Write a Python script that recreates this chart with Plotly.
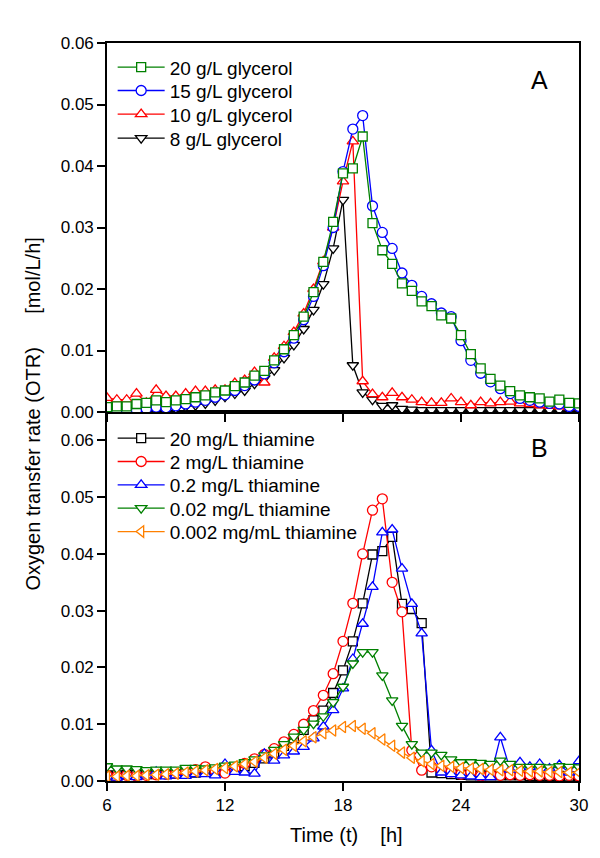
import plotly.graph_objects as go

# time axis (h)
t = [6.0, 6.5, 7.0, 7.5, 8.0, 8.5, 9.0, 9.5, 10.0, 10.5, 11.0, 11.5, 12.0, 12.5,
     13.0, 13.5, 14.0, 14.5, 15.0, 15.5, 16.0, 16.5, 17.0, 17.5, 18.0, 18.5,
     19.0, 19.5, 20.0, 20.5, 21.0, 21.5, 22.0, 22.5, 23.0, 23.5, 24.0, 24.5,
     25.0, 25.5, 26.0, 26.5, 27.0, 27.5, 28.0, 28.5, 29.0, 29.5, 30.0]

# Panel A: glycerol
gly20 = [0.0008, 0.0009, 0.0009, 0.0013, 0.0015, 0.0019, 0.0016, 0.0019, 0.0021, 0.0024,
         0.0027, 0.0032, 0.0035, 0.0042, 0.0048, 0.0059, 0.0067, 0.0084, 0.0102, 0.0125,
         0.0155, 0.0195, 0.0244, 0.0309, 0.0388, 0.0396, 0.0448, 0.0307, 0.0263, 0.0241,
         0.0209, 0.0197, 0.0180, 0.0172, 0.0157, 0.0152, 0.0125, 0.0094, 0.0071, 0.0054,
         0.0043, 0.0034, 0.0027, 0.0024, 0.0022, 0.0017, 0.0020, 0.0015, 0.0014]
gly15 = [0.0002, 0.0002, 0.0001, 0.0003, 0.0005, 0.0008, 0.0007, 0.0010, 0.0013, 0.0016,
         0.0019, 0.0024, 0.0028, 0.0035, 0.0043, 0.0052, 0.0062, 0.0080, 0.0098, 0.0120,
         0.0150, 0.0188, 0.0238, 0.0300, 0.0391, 0.0460, 0.0482, 0.0335, 0.0292, 0.0266,
         0.0226, 0.0206, 0.0188, 0.0176, 0.0161, 0.0155, 0.0116, 0.0084, 0.0063, 0.0049,
         0.0038, 0.0030, 0.0022, 0.0019, 0.0016, 0.0014, 0.0013, 0.0009, 0.0009]
gly10 = [0.0023, 0.0020, 0.0020, 0.0030, 0.0015, 0.0036, 0.0026, 0.0026, 0.0030, 0.0034,
         0.0034, 0.0036, 0.0036, 0.0047, 0.0052, 0.0065, 0.0048, 0.0088, 0.0107, 0.0130,
         0.0160, 0.0200, 0.0245, 0.0300, 0.0375, 0.0440, 0.0050, 0.0029, 0.0024, 0.0031,
         0.0024, 0.0020, 0.0016, 0.0015, 0.0015, 0.0022, 0.0016, 0.0011, 0.0016, 0.0014,
         0.0016, 0.0017, 0.0014, 0.0013, 0.0011, 0.0010, 0.0009, 0.0008, 0.0009]
gly8 = [0.0003, 0.0003, 0.0002, 0.0004, 0.0005, 0.0006, 0.0004, 0.0006, 0.0009, 0.0011,
        0.0014, 0.0019, 0.0025, 0.0030, 0.0035, 0.0046, 0.0055, 0.0068, 0.0088, 0.0109,
        0.0135, 0.0166, 0.0208, 0.0266, 0.0345, 0.0076, 0.0032, 0.0020, 0.0010, 0.0011,
        0.0005, 0.0004, 0.0003, 0.0003, 0.0003, 0.0003, 0.0003, 0.0003, 0.0003, 0.0003,
        0.0003, 0.0003, 0.0003, 0.0003, 0.0003, 0.0003, 0.0003, 0.0003, 0.0003]

# Panel B: thiamine
thi20 = [0.0010, 0.0010, 0.0011, 0.0011, 0.0012, 0.0012, 0.0013, 0.0013, 0.0014, 0.0015,
         0.0016, 0.0017, 0.0018, 0.0022, 0.0026, 0.0032, 0.0040, 0.0050, 0.0062, 0.0075,
         0.0090, 0.0107, 0.0124, 0.0155, 0.0195, 0.0246, 0.0313, 0.0399, 0.0405, 0.0430,
         0.0312, 0.0303, 0.0278, 0.0015, 0.0014, 0.0012, 0.0011, 0.0010, 0.0010, 0.0010,
         0.0010, 0.0010, 0.0010, 0.0009, 0.0009, 0.0009, 0.0009, 0.0008, 0.0008]
thi2 = [0.0010, 0.0008, 0.0010, 0.0009, 0.0010, 0.0011, 0.0012, 0.0014, 0.0016, 0.0020,
        0.0025, 0.0018, 0.0014, 0.0022, 0.0031, 0.0039, 0.0047, 0.0057, 0.0069, 0.0082,
        0.0100, 0.0124, 0.0151, 0.0189, 0.0246, 0.0313, 0.0400, 0.0477, 0.0497, 0.0350,
        0.0298, 0.0054, 0.0019, 0.0025, 0.0020, 0.0016, 0.0012, 0.0016, 0.0009, 0.0012,
        0.0010, 0.0011, 0.0010, 0.0011, 0.0010, 0.0010, 0.0009, 0.0010, 0.0009]
thi02 = [0.0008, 0.0006, 0.0009, 0.0007, 0.0010, 0.0016, 0.0008, 0.0010, 0.0009, 0.0012,
         0.0012, 0.0010, 0.0030, 0.0016, 0.0015, 0.0013, 0.0048, 0.0036, 0.0045, 0.0052,
         0.0060, 0.0075, 0.0096, 0.0125, 0.0163, 0.0215, 0.0277, 0.0342, 0.0438, 0.0443,
         0.0374, 0.0312, 0.0260, 0.0054, 0.0015, 0.0012, 0.0010, 0.0008, 0.0007, 0.0007,
         0.0077, 0.0020, 0.0033, 0.0025, 0.0030, 0.0022, 0.0028, 0.0015, 0.0035]
thi002 = [0.0026, 0.0022, 0.0022, 0.0021, 0.0019, 0.0020, 0.0020, 0.0020, 0.0023, 0.0023,
          0.0022, 0.0024, 0.0027, 0.0029, 0.0033, 0.0038, 0.0045, 0.0055, 0.0065, 0.0078,
          0.0090, 0.0101, 0.0114, 0.0139, 0.0166, 0.0207, 0.0227, 0.0227, 0.0186, 0.0142,
          0.0097, 0.0065, 0.0050, 0.0050, 0.0046, 0.0038, 0.0033, 0.0033, 0.0032, 0.0030,
          0.0036, 0.0030, 0.0025, 0.0025, 0.0025, 0.0024, 0.0026, 0.0025, 0.0024]
thi0002 = [0.0008, 0.0008, 0.0009, 0.0009, 0.0010, 0.0011, 0.0012, 0.0013, 0.0015, 0.0017,
           0.0019, 0.0021, 0.0023, 0.0026, 0.0030, 0.0034, 0.0041, 0.0048, 0.0055, 0.0062,
           0.0070, 0.0077, 0.0084, 0.0089, 0.0095, 0.0097, 0.0092, 0.0084, 0.0073, 0.0062,
           0.0050, 0.0041, 0.0035, 0.0030, 0.0027, 0.0025, 0.0023, 0.0022, 0.0021, 0.0020,
           0.0019, 0.0019, 0.0018, 0.0017, 0.0017, 0.0016, 0.0016, 0.0015, 0.0015]

x_ticks = [6, 12, 18, 24, 30]
y_ticks = [0.00, 0.01, 0.02, 0.03, 0.04, 0.05, 0.06]

FONT = "Arial, Liberation Sans, sans-serif"
GREEN = "#008000"
BLUE = "#0000FF"
RED = "#FF0000"
BLACK = "#000000"
ORANGE = "#FF8000"

fig = go.Figure()
legends = {}


def add(y, name, color, symbol, xa, ya, legend_key, row_y, size=10):
    fig.add_trace(go.Scatter(
        x=t, y=y, name=name, mode="lines+markers",
        line=dict(color=color, width=1.3),
        marker=dict(symbol=symbol, size=size, color="white",
                    line=dict(color=color, width=1.3)),
        xaxis=xa, yaxis=ya, legend=legend_key))
    legends[legend_key] = dict(x=0.012, y=row_y, xanchor="left", yanchor="middle",
                               bgcolor="rgba(0,0,0,0)", borderwidth=0,
                               font=dict(family=FONT, size=19, color="black"),
                               itemwidth=47, tracegroupgap=0)


# Panel A (black drawn first so it sits below the others)
add(gly8, "8 g/L glycerol", BLACK, "triangle-down", "x2", "y2", "legend4", 0.8709)
add(gly10, "10 g/L glycerol", RED, "triangle-up", "x2", "y2", "legend3", 0.9034)
add(gly15, "15 g/L glycerol", BLUE, "circle", "x2", "y2", "legend2", 0.9354)
add(gly20, "20 g/L glycerol", GREEN, "square", "x2", "y2", "legend", 0.9671, size=9)

# Panel B
add(thi20, "20 mg/L thiamine", BLACK, "square", "x", "y", "legend5", 0.4644, size=9)
add(thi2, "2 mg/L thiamine", RED, "circle", "x", "y", "legend6", 0.4327)
add(thi02, "0.2 mg/L thiamine", BLUE, "triangle-up", "x", "y", "legend7", 0.4011)
add(thi002, "0.02 mg/L thiamine", GREEN, "triangle-down", "x", "y", "legend8", 0.3695)
add(thi0002, "0.002 mg/mL thiamine", ORANGE, "triangle-left", "x", "y", "legend9", 0.3378)

axis_common = dict(showline=True, linecolor="black", linewidth=1.6, mirror=True,
                   ticks="outside", ticklen=8, tickwidth=1.5, tickcolor="black",
                   showgrid=False, zeroline=False,
                   tickfont=dict(family=FONT, size=17, color="black"))

fig.update_layout(
    width=600, height=858,
    margin=dict(l=107, r=12, t=43, b=77),
    paper_bgcolor="white", plot_bgcolor="white",
    font=dict(family=FONT, size=17, color="black"),
    showlegend=True,
    xaxis=dict(domain=[0, 1], anchor="y", range=[6, 30], tickvals=x_ticks, **axis_common),
    xaxis2=dict(domain=[0, 1], anchor="y2", range=[6, 30], tickvals=x_ticks,
                showticklabels=False, matches="x", **axis_common),
    yaxis=dict(domain=[0, 0.5], anchor="x", range=[0, 0.065], tickvals=y_ticks,
               tickformat=".2f", **axis_common),
    yaxis2=dict(domain=[0.5, 1], anchor="x2", range=[0, 0.06], tickvals=y_ticks,
                tickformat=".2f", **axis_common),
    annotations=[
        dict(text="A", x=0.917, y=0.95, xref="paper", yref="paper", showarrow=False,
             xanchor="center", yanchor="middle", font=dict(family=FONT, size=25)),
        dict(text="B", x=0.917, y=0.451, xref="paper", yref="paper", showarrow=False,
             xanchor="center", yanchor="middle", font=dict(family=FONT, size=25)),
        dict(text="Time (t)\u00a0\u00a0\u00a0\u00a0[h]", x=0.508, y=-0.073,
             xref="paper", yref="paper", showarrow=False, xanchor="center",
             yanchor="middle", font=dict(family=FONT, size=20)),
        dict(text="Oxygen transfer rate (OTR)\u00a0\u00a0\u00a0\u00a0\u00a0\u00a0[mol/L/h]",
             x=-0.156, y=0.497, xref="paper", yref="paper", showarrow=False, textangle=-90,
             xanchor="center", yanchor="middle", font=dict(family=FONT, size=20)),
    ],
)
fig.update_layout(**legends)

fig.write_html("out.html", config={"displayModeBar": False},
               post_script="document.body.style.margin='0';")
